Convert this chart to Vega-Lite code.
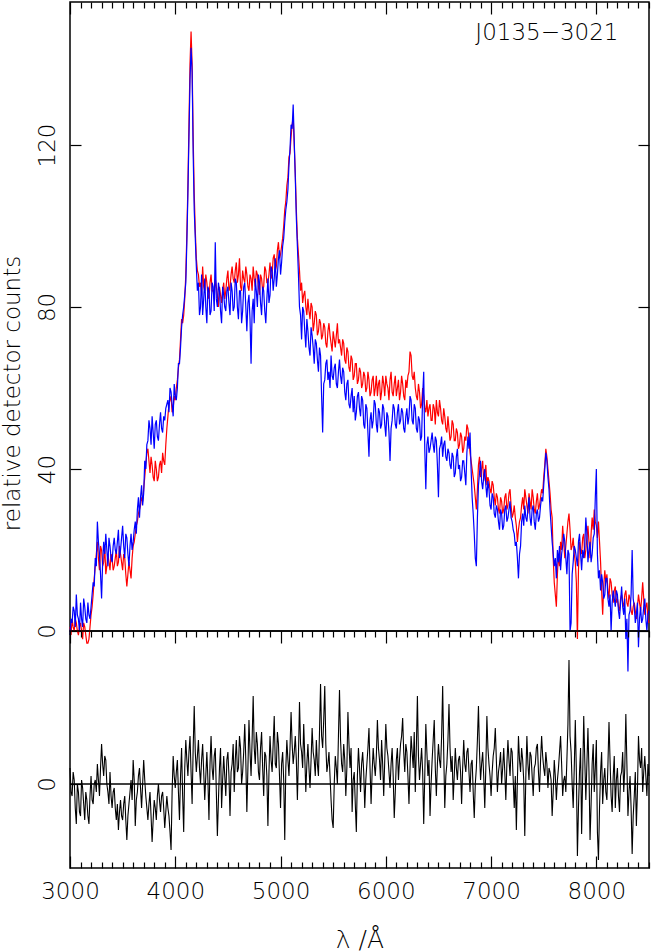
{
  "$schema": "https://vega.github.io/schema/vega-lite/v6.json",
  "padding": 0,
  "autosize": {"type": "pad"},
  "spacing": 0,
  "bounds": "flush",
  "config": {
    "font": "DejaVu Sans",
    "view": {"stroke": "black", "strokeWidth": 1.5},
    "axis": {"labelFont": "DejaVu Sans", "labelFontWeight": 200, "labelFontSize": 23, "labelColor": "black", "titleFont": "DejaVu Sans", "titleFontWeight": 200, "titleFontSize": 23, "titleColor": "black", "tickColor": "black", "tickWidth": 1.2, "domain": false, "grid": false, "labelFlush": false, "labelOverlap": false}
  },
  "datasets": {
    "spec": [
      {"w":3000,"r":1,"b":-1,"d":0.4},{"w":3010,"r":-1,"b":3,"d":-0.2},{"w":3020,"r":3,"b":2,"d":-0.3},{"w":3030,"r":1,"b":6,"d":0.3},{"w":3040,"r":0,"b":5,"d":0.1},{"w":3050,"r":3,"b":1,"d":-0.6},{"w":3060,"r":2,"b":9,"d":-1.0},{"w":3070,"r":0,"b":4,"d":0.0},{"w":3080,"r":-1,"b":3,"d":-0.2},{"w":3090,"r":1,"b":0,"d":-0.7},
      {"w":3100,"r":2,"b":7,"d":-0.8},{"w":3110,"r":0,"b":3,"d":0.1},{"w":3120,"r":-2,"b":1,"d":-0.1},{"w":3130,"r":2,"b":8,"d":-0.5},{"w":3140,"r":1,"b":6,"d":-0.9},{"w":3150,"r":-1,"b":3,"d":-0.2},{"w":3160,"r":-3,"b":2,"d":-0.4},{"w":3170,"r":-3,"b":7,"d":-0.8},{"w":3180,"r":-2,"b":4,"d":-1.0},{"w":3190,"r":1,"b":3,"d":-0.3},
      {"w":3200,"r":4,"b":6,"d":0.2},{"w":3210,"r":6,"b":9,"d":-0.4},{"w":3220,"r":9,"b":12,"d":-0.5},{"w":3230,"r":13,"b":11,"d":0.0},{"w":3240,"r":16,"b":18,"d":0.1},{"w":3250,"r":19,"b":16,"d":-0.2},{"w":3260,"r":22,"b":27,"d":0.5},{"w":3270,"r":18,"b":22,"d":0.1},{"w":3280,"r":15,"b":19,"d":-0.3},{"w":3290,"r":21,"b":14,"d":0.4},
      {"w":3300,"r":20,"b":8,"d":1.0},{"w":3310,"r":16,"b":17,"d":0.5},{"w":3320,"r":17,"b":22,"d":0.2},{"w":3330,"r":21,"b":19,"d":0.7},{"w":3340,"r":14,"b":24,"d":0.6},{"w":3350,"r":16,"b":20,"d":0.0},{"w":3360,"r":19,"b":16,"d":-0.2},{"w":3370,"r":17,"b":23,"d":-0.5},{"w":3380,"r":15,"b":21,"d":0.3},{"w":3390,"r":19,"b":18,"d":-0.3},
      {"w":3400,"r":18,"b":17,"d":-0.6},{"w":3410,"r":15,"b":21,"d":-0.2},{"w":3420,"r":16,"b":23,"d":-0.1},{"w":3430,"r":18,"b":20,"d":-0.6},{"w":3440,"r":20,"b":19,"d":-0.9},{"w":3450,"r":16,"b":22,"d":-0.5},{"w":3460,"r":17,"b":25,"d":-1.15},{"w":3470,"r":21,"b":18,"d":-0.7},{"w":3480,"r":19,"b":20,"d":-0.4},{"w":3490,"r":17,"b":23,"d":-0.8},
      {"w":3500,"r":15,"b":26,"d":-0.9},{"w":3510,"r":19,"b":21,"d":-0.5},{"w":3520,"r":18,"b":18,"d":-0.3},{"w":3530,"r":14,"b":24,"d":-0.9},{"w":3540,"r":11,"b":23,"d":-1.4},{"w":3550,"r":14,"b":19,"d":-0.8},{"w":3560,"r":17,"b":16,"d":-0.5},{"w":3570,"r":15,"b":21,"d":-0.2},{"w":3580,"r":13,"b":24,"d":0.1},{"w":3590,"r":18,"b":20,"d":-0.4},
      {"w":3600,"r":21,"b":22,"d":0.6},{"w":3610,"r":22,"b":25,"d":0.1},{"w":3620,"r":24,"b":27,"d":-1.05},{"w":3630,"r":26,"b":24,"d":-0.4},{"w":3640,"r":27,"b":30,"d":-0.2},{"w":3650,"r":29,"b":33,"d":0.2},{"w":3660,"r":30,"b":28,"d":0.4},{"w":3670,"r":31,"b":33,"d":-0.1},{"w":3680,"r":33,"b":36,"d":-0.6},{"w":3690,"r":32,"b":31,"d":0.0},
      {"w":3700,"r":35,"b":34,"d":0.6},{"w":3710,"r":38,"b":42,"d":0.1},{"w":3720,"r":41,"b":40,"d":-0.3},{"w":3730,"r":44,"b":46,"d":-0.6},{"w":3740,"r":45,"b":47,"d":-0.9},{"w":3750,"r":42,"b":52,"d":-0.5},{"w":3760,"r":39,"b":50,"d":-0.2},{"w":3770,"r":43,"b":46,"d":-0.8},{"w":3780,"r":41,"b":53,"d":-1.45},{"w":3790,"r":38,"b":49,"d":-0.9},
      {"w":3800,"r":37,"b":45,"d":-0.4},{"w":3810,"r":42,"b":51,"d":-0.6},{"w":3820,"r":40,"b":52,"d":-0.9},{"w":3830,"r":37,"b":48,"d":-0.3},{"w":3840,"r":38,"b":47,"d":0.0},{"w":3850,"r":41,"b":51,"d":-0.4},{"w":3860,"r":42,"b":54,"d":-0.7},{"w":3870,"r":39,"b":50,"d":-0.3},{"w":3880,"r":44,"b":49,"d":-0.2},{"w":3890,"r":42,"b":53,"d":-0.6},
      {"w":3900,"r":41,"b":52,"d":-1.1},{"w":3910,"r":46,"b":55,"d":-0.7},{"w":3920,"r":50,"b":56,"d":-0.3},{"w":3930,"r":53,"b":57,"d":-0.6},{"w":3940,"r":56,"b":54,"d":-0.8},{"w":3950,"r":57,"b":60,"d":-1.2},{"w":3960,"r":58,"b":59,"d":-1.65},{"w":3970,"r":54,"b":56,"d":-0.2},{"w":3980,"r":55,"b":53,"d":0.7},{"w":3990,"r":58,"b":61,"d":0.2},
      {"w":4000,"r":57,"b":58,"d":-0.1},{"w":4010,"r":60,"b":57,"d":0.3},{"w":4020,"r":62,"b":60,"d":0.6},{"w":4030,"r":65,"b":66,"d":-0.2},{"w":4040,"r":67,"b":66,"d":-0.9},{"w":4050,"r":72,"b":70,"d":0.2},{"w":4060,"r":77,"b":75,"d":0.9},{"w":4070,"r":76,"b":78,"d":-0.3},{"w":4080,"r":78,"b":80,"d":-1.2},{"w":4090,"r":82,"b":83,"d":0.4},
      {"w":4100,"r":88,"b":86,"d":1.1},{"w":4110,"r":98,"b":96,"d":0.6},{"w":4120,"r":110,"b":108,"d":0.2},{"w":4130,"r":125,"b":122,"d":0.8},{"w":4140,"r":140,"b":136,"d":1.2},{"w":4150,"r":148,"b":144,"d":0.3},{"w":4160,"r":140,"b":138,"d":-0.5},{"w":4170,"r":122,"b":118,"d":0.9},{"w":4180,"r":108,"b":104,"d":1.95},{"w":4190,"r":99,"b":97,"d":0.8},
      {"w":4200,"r":92,"b":90,"d":0.3},{"w":4210,"r":89,"b":84,"d":0.7},{"w":4220,"r":88,"b":86,"d":1.1},{"w":4230,"r":85,"b":78,"d":0.4},{"w":4240,"r":86,"b":80,"d":0.0},{"w":4250,"r":83,"b":88,"d":0.6},{"w":4260,"r":90,"b":78,"d":1.0},{"w":4270,"r":85,"b":82,"d":0.3},{"w":4280,"r":84,"b":87,"d":-0.4},{"w":4290,"r":88,"b":80,"d":0.2},
      {"w":4300,"r":86,"b":76,"d":0.8},{"w":4310,"r":83,"b":85,"d":0.1},{"w":4320,"r":82,"b":84,"d":-0.9},{"w":4330,"r":86,"b":78,"d":0.5},{"w":4340,"r":88,"b":79,"d":1.2},{"w":4350,"r":84,"b":86,"d":0.4},{"w":4360,"r":84,"b":85,"d":0.1},{"w":4370,"r":82,"b":79,"d":0.7},{"w":4380,"r":87,"b":96,"d":0.9},{"w":4390,"r":85,"b":82,"d":-0.2},
      {"w":4400,"r":83,"b":80,"d":-1.3},{"w":4410,"r":80,"b":86,"d":-0.4},{"w":4420,"r":85,"b":84,"d":0.4},{"w":4430,"r":83,"b":79,"d":0.9},{"w":4440,"r":81,"b":76,"d":-0.6},{"w":4450,"r":84,"b":85,"d":0.1},{"w":4460,"r":86,"b":83,"d":0.7},{"w":4470,"r":82,"b":80,"d":0.2},{"w":4480,"r":84,"b":79,"d":-0.3},{"w":4490,"r":87,"b":84,"d":0.6},
      {"w":4500,"r":89,"b":85,"d":0.8},{"w":4510,"r":84,"b":81,"d":0.2},{"w":4520,"r":85,"b":78,"d":-0.8},{"w":4530,"r":88,"b":86,"d":0.3},{"w":4540,"r":90,"b":84,"d":0.5},{"w":4550,"r":87,"b":79,"d":1.0},{"w":4560,"r":86,"b":80,"d":-0.2},{"w":4570,"r":89,"b":87,"d":0.6},{"w":4580,"r":91,"b":86,"d":1.1},{"w":4590,"r":86,"b":80,"d":0.3},
      {"w":4600,"r":88,"b":77,"d":0.4},{"w":4610,"r":92,"b":84,"d":1.2},{"w":4620,"r":85,"b":84,"d":0.9},{"w":4630,"r":84,"b":76,"d":0.0},{"w":4640,"r":89,"b":79,"d":0.3},{"w":4650,"r":87,"b":85,"d":0.8},{"w":4660,"r":86,"b":86,"d":1.5},{"w":4670,"r":90,"b":80,"d":0.6},{"w":4680,"r":88,"b":74,"d":-0.7},{"w":4690,"r":85,"b":81,"d":0.4},
      {"w":4700,"r":84,"b":83,"d":1.6},{"w":4710,"r":88,"b":77,"d":0.8},{"w":4720,"r":87,"b":66,"d":0.2},{"w":4730,"r":84,"b":79,"d":1.1},{"w":4740,"r":90,"b":82,"d":2.2},{"w":4750,"r":87,"b":76,"d":0.9},{"w":4760,"r":85,"b":87,"d":0.5},{"w":4770,"r":89,"b":84,"d":1.3},{"w":4780,"r":88,"b":80,"d":1.0},{"w":4790,"r":85,"b":88,"d":0.3},
      {"w":4800,"r":83,"b":86,"d":0.1},{"w":4810,"r":88,"b":81,"d":0.9},{"w":4820,"r":87,"b":78,"d":1.3},{"w":4830,"r":84,"b":85,"d":0.4},{"w":4840,"r":85,"b":84,"d":-0.3},{"w":4850,"r":90,"b":79,"d":0.8},{"w":4860,"r":89,"b":76,"d":0.7},{"w":4870,"r":86,"b":82,"d":0.2},{"w":4880,"r":86,"b":87,"d":-1.05},{"w":4890,"r":88,"b":81,"d":0.3},
      {"w":4900,"r":91,"b":83,"d":1.2},{"w":4910,"r":87,"b":90,"d":0.6},{"w":4920,"r":88,"b":89,"d":0.3},{"w":4930,"r":92,"b":84,"d":1.0},{"w":4940,"r":93,"b":87,"d":1.7},{"w":4950,"r":89,"b":92,"d":0.5},{"w":4960,"r":90,"b":85,"d":0.4},{"w":4970,"r":94,"b":88,"d":1.3},{"w":4980,"r":96,"b":92,"d":1.0},{"w":4990,"r":92,"b":94,"d":0.2},
      {"w":5000,"r":93,"b":88,"d":-0.6},{"w":5010,"r":95,"b":91,"d":0.5},{"w":5020,"r":97,"b":95,"d":0.8},{"w":5030,"r":100,"b":97,"d":0.1},{"w":5040,"r":104,"b":101,"d":-1.4},{"w":5050,"r":106,"b":104,"d":0.4},{"w":5060,"r":110,"b":106,"d":1.1},{"w":5070,"r":112,"b":109,"d":0.6},{"w":5080,"r":117,"b":115,"d":0.2},{"w":5090,"r":118,"b":119,"d":0.9},
      {"w":5100,"r":122,"b":125,"d":1.8},{"w":5110,"r":125,"b":124,"d":1.0},{"w":5120,"r":127,"b":130,"d":0.5},{"w":5130,"r":120,"b":121,"d":0.8},{"w":5140,"r":113,"b":112,"d":1.2},{"w":5150,"r":104,"b":102,"d":0.6},{"w":5160,"r":97,"b":95,"d":-0.4},{"w":5170,"r":93,"b":88,"d":0.7},{"w":5180,"r":89,"b":80,"d":2.05},{"w":5190,"r":84,"b":78,"d":1.0},
      {"w":5200,"r":86,"b":72,"d":0.8},{"w":5210,"r":81,"b":80,"d":0.4},{"w":5220,"r":83,"b":79,"d":1.5},{"w":5230,"r":84,"b":74,"d":0.7},{"w":5240,"r":80,"b":70,"d":-0.2},{"w":5250,"r":78,"b":77,"d":0.5},{"w":5260,"r":82,"b":74,"d":1.0},{"w":5270,"r":79,"b":70,"d":0.4},{"w":5280,"r":77,"b":68,"d":-0.1},{"w":5290,"r":81,"b":75,"d":0.6},
      {"w":5300,"r":80,"b":73,"d":1.4},{"w":5310,"r":74,"b":70,"d":0.8},{"w":5320,"r":76,"b":66,"d":0.6},{"w":5330,"r":79,"b":72,"d":0.2},{"w":5340,"r":78,"b":71,"d":1.1},{"w":5350,"r":73,"b":67,"d":0.5},{"w":5360,"r":74,"b":64,"d":0.2},{"w":5370,"r":77,"b":70,"d":1.3},{"w":5380,"r":76,"b":68,"d":2.5},{"w":5390,"r":72,"b":58,"d":1.2},
      {"w":5400,"r":73,"b":49,"d":0.9},{"w":5410,"r":76,"b":61,"d":1.6},{"w":5420,"r":75,"b":62,"d":2.45},{"w":5430,"r":71,"b":66,"d":1.0},{"w":5440,"r":70,"b":67,"d":0.3},{"w":5450,"r":74,"b":62,"d":0.5},{"w":5460,"r":76,"b":64,"d":0.8},{"w":5470,"r":73,"b":60,"d":0.2},{"w":5480,"r":71,"b":68,"d":-0.4},{"w":5490,"r":69,"b":63,"d":-0.9},
      {"w":5500,"r":74,"b":62,"d":-1.1},{"w":5510,"r":72,"b":65,"d":0.0},{"w":5520,"r":70,"b":66,"d":0.7},{"w":5530,"r":73,"b":61,"d":0.4},{"w":5540,"r":76,"b":60,"d":0.0},{"w":5550,"r":71,"b":64,"d":1.2},{"w":5560,"r":72,"b":67,"d":2.35},{"w":5570,"r":70,"b":63,"d":1.1},{"w":5580,"r":68,"b":61,"d":0.5},{"w":5590,"r":72,"b":65,"d":0.3},
      {"w":5600,"r":71,"b":64,"d":1.0},{"w":5610,"r":67,"b":59,"d":0.6},{"w":5620,"r":66,"b":57,"d":-0.3},{"w":5630,"r":70,"b":61,"d":0.4},{"w":5640,"r":69,"b":62,"d":1.8},{"w":5650,"r":65,"b":56,"d":1.0},{"w":5660,"r":64,"b":55,"d":0.4},{"w":5670,"r":68,"b":58,"d":0.9},{"w":5680,"r":67,"b":60,"d":-0.7},{"w":5690,"r":62,"b":54,"d":0.1},
      {"w":5700,"r":63,"b":58,"d":0.3},{"w":5710,"r":66,"b":52,"d":-0.5},{"w":5720,"r":66,"b":54,"d":-1.2},{"w":5730,"r":61,"b":58,"d":0.2},{"w":5740,"r":62,"b":59,"d":0.9},{"w":5750,"r":65,"b":55,"d":0.4},{"w":5760,"r":64,"b":53,"d":-0.2},{"w":5770,"r":60,"b":58,"d":0.5},{"w":5780,"r":61,"b":57,"d":0.8},{"w":5790,"r":64,"b":51,"d":0.3},
      {"w":5800,"r":63,"b":50,"d":-0.6},{"w":5810,"r":59,"b":56,"d":0.1},{"w":5820,"r":60,"b":55,"d":0.5},{"w":5830,"r":64,"b":49,"d":0.9},{"w":5840,"r":62,"b":43,"d":1.4},{"w":5850,"r":58,"b":52,"d":0.4},{"w":5860,"r":59,"b":54,"d":-0.5},{"w":5870,"r":62,"b":50,"d":0.3},{"w":5880,"r":63,"b":52,"d":0.9},{"w":5890,"r":58,"b":57,"d":0.5},
      {"w":5900,"r":60,"b":56,"d":0.2},{"w":5910,"r":63,"b":51,"d":0.7},{"w":5920,"r":58,"b":49,"d":1.6},{"w":5930,"r":61,"b":55,"d":0.9},{"w":5940,"r":62,"b":54,"d":0.6},{"w":5950,"r":57,"b":50,"d":0.1},{"w":5960,"r":59,"b":51,"d":1.1},{"w":5970,"r":63,"b":56,"d":0.5},{"w":5980,"r":61,"b":55,"d":-0.3},{"w":5990,"r":58,"b":51,"d":0.6},
      {"w":6000,"r":63,"b":48,"d":1.5},{"w":6010,"r":61,"b":54,"d":0.9},{"w":6020,"r":60,"b":53,"d":0.7},{"w":6030,"r":57,"b":49,"d":0.3},{"w":6040,"r":62,"b":42,"d":-0.1},{"w":6050,"r":64,"b":50,"d":0.5},{"w":6060,"r":59,"b":52,"d":0.9},{"w":6070,"r":58,"b":56,"d":0.2},{"w":6080,"r":61,"b":55,"d":-0.85},{"w":6090,"r":63,"b":51,"d":-0.2},
      {"w":6100,"r":58,"b":50,"d":0.6},{"w":6110,"r":60,"b":54,"d":0.9},{"w":6120,"r":62,"b":56,"d":0.1},{"w":6130,"r":57,"b":51,"d":0.6},{"w":6140,"r":59,"b":52,"d":1.0},{"w":6150,"r":63,"b":55,"d":1.2},{"w":6160,"r":61,"b":54,"d":1.65},{"w":6170,"r":58,"b":50,"d":0.8},{"w":6180,"r":57,"b":49,"d":0.3},{"w":6190,"r":62,"b":53,"d":1.0},
      {"w":6200,"r":60,"b":55,"d":0.8},{"w":6210,"r":63,"b":51,"d":0.2},{"w":6220,"r":64,"b":53,"d":-0.5},{"w":6230,"r":69,"b":58,"d":0.4},{"w":6240,"r":68,"b":57,"d":1.2},{"w":6250,"r":63,"b":52,"d":0.8},{"w":6260,"r":62,"b":51,"d":0.4},{"w":6270,"r":64,"b":56,"d":1.3},{"w":6280,"r":60,"b":55,"d":-0.2},{"w":6290,"r":58,"b":50,"d":0.9},
      {"w":6300,"r":57,"b":49,"d":2.2},{"w":6310,"r":61,"b":53,"d":0.7},{"w":6320,"r":59,"b":52,"d":0.1},{"w":6330,"r":55,"b":47,"d":0.5},{"w":6340,"r":56,"b":48,"d":0.9},{"w":6350,"r":60,"b":58,"d":0.3},{"w":6360,"r":58,"b":64,"d":-1.0},{"w":6370,"r":55,"b":45,"d":0.2},{"w":6380,"r":54,"b":35,"d":1.5},{"w":6390,"r":57,"b":46,"d":0.8},
      {"w":6400,"r":53,"b":48,"d":0.2},{"w":6410,"r":55,"b":44,"d":0.6},{"w":6420,"r":56,"b":45,"d":-0.8},{"w":6430,"r":52,"b":47,"d":0.0},{"w":6440,"r":52,"b":49,"d":0.6},{"w":6450,"r":56,"b":46,"d":1.1},{"w":6460,"r":55,"b":44,"d":1.6},{"w":6470,"r":51,"b":48,"d":0.4},{"w":6480,"r":57,"b":47,"d":-0.3},{"w":6490,"r":54,"b":41,"d":0.5},
      {"w":6500,"r":53,"b":33,"d":1.0},{"w":6510,"r":57,"b":45,"d":0.6},{"w":6520,"r":55,"b":46,"d":0.4},{"w":6530,"r":52,"b":48,"d":1.2},{"w":6540,"r":51,"b":43,"d":2.45},{"w":6550,"r":55,"b":46,"d":0.8},{"w":6560,"r":53,"b":47,"d":-0.6},{"w":6570,"r":50,"b":43,"d":0.2},{"w":6580,"r":49,"b":42,"d":0.5},{"w":6590,"r":53,"b":45,"d":1.1},
      {"w":6600,"r":50,"b":44,"d":2.0},{"w":6610,"r":47,"b":41,"d":0.9},{"w":6620,"r":48,"b":40,"d":0.3},{"w":6630,"r":52,"b":44,"d":0.7},{"w":6640,"r":51,"b":43,"d":-0.4},{"w":6650,"r":47,"b":38,"d":0.2},{"w":6660,"r":47,"b":39,"d":0.9},{"w":6670,"r":50,"b":43,"d":0.4},{"w":6680,"r":49,"b":45,"d":0.1},{"w":6690,"r":45,"b":40,"d":0.6},
      {"w":6700,"r":46,"b":41,"d":0.7},{"w":6710,"r":49,"b":37,"d":0.3},{"w":6720,"r":48,"b":38,"d":-0.5},{"w":6730,"r":44,"b":42,"d":0.4},{"w":6740,"r":45,"b":42,"d":1.1},{"w":6750,"r":48,"b":39,"d":0.5},{"w":6760,"r":47,"b":36,"d":0.3},{"w":6770,"r":51,"b":44,"d":0.8},{"w":6780,"r":50,"b":48,"d":0.9},{"w":6790,"r":47,"b":45,"d":0.3},
      {"w":6800,"r":44,"b":49,"d":-0.2},{"w":6810,"r":42,"b":40,"d":0.5},{"w":6820,"r":40,"b":33,"d":0.6},{"w":6830,"r":38,"b":29,"d":-0.2},{"w":6840,"r":36,"b":24,"d":-0.85},{"w":6850,"r":33,"b":18,"d":0.0},{"w":6860,"r":30,"b":16,"d":0.4},{"w":6870,"r":35,"b":28,"d":1.1},{"w":6880,"r":41,"b":36,"d":1.95},{"w":6890,"r":43,"b":39,"d":0.8},
      {"w":6900,"r":38,"b":42,"d":0.1},{"w":6910,"r":40,"b":37,"d":0.5},{"w":6920,"r":42,"b":35,"d":0.8},{"w":6930,"r":37,"b":38,"d":0.2},{"w":6940,"r":39,"b":40,"d":-0.6},{"w":6950,"r":41,"b":36,"d":0.4},{"w":6960,"r":36,"b":33,"d":1.7},{"w":6970,"r":38,"b":37,"d":0.9},{"w":6980,"r":37,"b":35,"d":0.5},{"w":6990,"r":35,"b":31,"d":0.2},
      {"w":7000,"r":34,"b":30,"d":-0.3},{"w":7010,"r":37,"b":34,"d":0.3},{"w":7020,"r":36,"b":33,"d":0.7},{"w":7030,"r":33,"b":29,"d":0.9},{"w":7040,"r":31,"b":28,"d":1.4},{"w":7050,"r":34,"b":31,"d":0.6},{"w":7060,"r":33,"b":30,"d":-0.2},{"w":7070,"r":30,"b":27,"d":0.3},{"w":7080,"r":29,"b":25,"d":0.5},{"w":7090,"r":33,"b":30,"d":0.8},
      {"w":7100,"r":32,"b":29,"d":0.0},{"w":7110,"r":29,"b":25,"d":0.4},{"w":7120,"r":30,"b":26,"d":0.9},{"w":7130,"r":33,"b":30,"d":0.3},{"w":7140,"r":34,"b":31,"d":-0.4},{"w":7150,"r":30,"b":27,"d":0.5},{"w":7160,"r":31,"b":28,"d":1.1},{"w":7170,"r":34,"b":30,"d":0.6},{"w":7180,"r":35,"b":32,"d":0.2},{"w":7190,"r":31,"b":28,"d":0.9},
      {"w":7200,"r":28,"b":27,"d":0.8},{"w":7210,"r":29,"b":25,"d":0.1},{"w":7220,"r":31,"b":24,"d":-0.6},{"w":7230,"r":28,"b":21,"d":0.2},{"w":7240,"r":26,"b":22,"d":-1.15},{"w":7250,"r":22,"b":18,"d":0.1},{"w":7260,"r":25,"b":13,"d":1.2},{"w":7270,"r":27,"b":19,"d":0.6},{"w":7280,"r":28,"b":21,"d":0.3},{"w":7290,"r":31,"b":27,"d":0.9},
      {"w":7300,"r":33,"b":29,"d":0.6},{"w":7310,"r":30,"b":26,"d":0.1},{"w":7320,"r":35,"b":31,"d":-1.3},{"w":7330,"r":33,"b":28,"d":0.2},{"w":7340,"r":31,"b":27,"d":1.2},{"w":7350,"r":29,"b":30,"d":0.5},{"w":7360,"r":34,"b":33,"d":0.1},{"w":7370,"r":32,"b":28,"d":0.8},{"w":7380,"r":30,"b":26,"d":0.7},{"w":7390,"r":35,"b":30,"d":0.2},
      {"w":7400,"r":33,"b":31,"d":-0.3},{"w":7410,"r":30,"b":27,"d":0.4},{"w":7420,"r":29,"b":25,"d":0.5},{"w":7430,"r":32,"b":29,"d":0.9},{"w":7440,"r":34,"b":30,"d":1.0},{"w":7450,"r":30,"b":27,"d":0.3},{"w":7460,"r":31,"b":28,"d":-0.2},{"w":7470,"r":33,"b":31,"d":0.6},{"w":7480,"r":35,"b":33,"d":1.2},{"w":7490,"r":34,"b":32,"d":0.7},
      {"w":7500,"r":38,"b":36,"d":0.4},{"w":7510,"r":41,"b":40,"d":0.2},{"w":7520,"r":45,"b":44,"d":0.8},{"w":7530,"r":43,"b":42,"d":0.5},{"w":7540,"r":40,"b":38,"d":-0.1},{"w":7550,"r":37,"b":35,"d":0.4},{"w":7560,"r":34,"b":30,"d":0.3},{"w":7570,"r":30,"b":26,"d":0.1},{"w":7580,"r":28,"b":22,"d":-0.8},{"w":7590,"r":18,"b":19,"d":-0.2},
      {"w":7600,"r":12,"b":16,"d":0.6},{"w":7610,"r":9,"b":18,"d":0.2},{"w":7620,"r":6,"b":13,"d":-0.4},{"w":7630,"r":14,"b":20,"d":0.1},{"w":7640,"r":19,"b":17,"d":0.4},{"w":7650,"r":16,"b":21,"d":0.8},{"w":7660,"r":22,"b":15,"d":1.2},{"w":7670,"r":20,"b":19,"d":0.5},{"w":7680,"r":26,"b":21,"d":-0.3},{"w":7690,"r":22,"b":24,"d":0.1},
      {"w":7700,"r":18,"b":22,"d":0.2},{"w":7710,"r":21,"b":18,"d":-0.2},{"w":7720,"r":24,"b":14,"d":0.6},{"w":7730,"r":27,"b":20,"d":1.5},{"w":7740,"r":29,"b":19,"d":3.1},{"w":7750,"r":25,"b":0,"d":1.2},{"w":7760,"r":20,"b":2,"d":0.8},{"w":7770,"r":21,"b":14,"d":0.0},{"w":7780,"r":23,"b":17,"d":-0.6},{"w":7790,"r":19,"b":21,"d":0.4},
      {"w":7800,"r":17,"b":20,"d":1.6},{"w":7810,"r":12,"b":18,"d":0.3},{"w":7820,"r":-2,"b":16,"d":-1.8},{"w":7830,"r":15,"b":22,"d":-0.6},{"w":7840,"r":22,"b":24,"d":0.3},{"w":7850,"r":20,"b":19,"d":0.9},{"w":7860,"r":19,"b":15,"d":-1.25},{"w":7870,"r":23,"b":20,"d":0.2},{"w":7880,"r":24,"b":18,"d":1.7},{"w":7890,"r":18,"b":21,"d":0.6},
      {"w":7900,"r":20,"b":28,"d":-0.4},{"w":7910,"r":23,"b":24,"d":0.5},{"w":7920,"r":26,"b":17,"d":1.4},{"w":7930,"r":22,"b":20,"d":0.3},{"w":7940,"r":18,"b":22,"d":-1.4},{"w":7950,"r":24,"b":17,"d":-0.5},{"w":7960,"r":28,"b":19,"d":0.5},{"w":7970,"r":25,"b":23,"d":1.0},{"w":7980,"r":30,"b":24,"d":-0.2},{"w":7990,"r":27,"b":33,"d":0.4},
      {"w":8000,"r":26,"b":40,"d":1.1},{"w":8010,"r":23,"b":19,"d":-1.2},{"w":8020,"r":27,"b":13,"d":-1.9},{"w":8030,"r":22,"b":15,"d":-0.6},{"w":8040,"r":17,"b":10,"d":0.3},{"w":8050,"r":10,"b":14,"d":0.8},{"w":8060,"r":4,"b":12,"d":-0.5},{"w":8070,"r":11,"b":8,"d":0.1},{"w":8080,"r":15,"b":9,"d":0.4},{"w":8090,"r":12,"b":13,"d":-0.2},
      {"w":8100,"r":14,"b":13,"d":-0.4},{"w":8110,"r":10,"b":8,"d":0.5},{"w":8120,"r":8,"b":6,"d":1.55},{"w":8130,"r":13,"b":9,"d":0.6},{"w":8140,"r":12,"b":0,"d":-0.3},{"w":8150,"r":9,"b":7,"d":-0.7},{"w":8160,"r":7,"b":10,"d":0.2},{"w":8170,"r":10,"b":8,"d":0.7},{"w":8180,"r":11,"b":6,"d":-0.6},{"w":8190,"r":7,"b":10,"d":0.1},
      {"w":8200,"r":8,"b":9,"d":0.4},{"w":8210,"r":6,"b":5,"d":-0.3},{"w":8220,"r":5,"b":3,"d":-0.7},{"w":8230,"r":8,"b":7,"d":0.2},{"w":8240,"r":9,"b":11,"d":0.3},{"w":8250,"r":7,"b":6,"d":0.8},{"w":8260,"r":6,"b":4,"d":-0.2},{"w":8270,"r":9,"b":8,"d":0.4},{"w":8280,"r":10,"b":-2,"d":1.75},{"w":8290,"r":7,"b":3,"d":0.5},
      {"w":8300,"r":6,"b":-10,"d":-0.8},{"w":8310,"r":9,"b":4,"d":-0.2},{"w":8320,"r":8,"b":5,"d":0.2},{"w":8330,"r":5,"b":9,"d":-0.6},{"w":8340,"r":4,"b":20,"d":-1.75},{"w":8350,"r":6,"b":8,"d":-0.8},{"w":8360,"r":7,"b":6,"d":-0.3},{"w":8370,"r":5,"b":2,"d":0.3},{"w":8380,"r":3,"b":4,"d":-1.05},{"w":8390,"r":6,"b":7,"d":-0.2},
      {"w":8400,"r":9,"b":-4,"d":1.2},{"w":8410,"r":7,"b":3,"d":0.6},{"w":8420,"r":5,"b":6,"d":0.4},{"w":8430,"r":8,"b":2,"d":0.9},{"w":8440,"r":12,"b":3,"d":-0.2},{"w":8450,"r":8,"b":6,"d":0.3},{"w":8460,"r":4,"b":8,"d":0.7},{"w":8470,"r":6,"b":3,"d":0.2},{"w":8480,"r":7,"b":0,"d":-0.3},{"w":8490,"r":3,"b":4,"d":0.5},
      {"w":8500,"r":2,"b":5,"d":0.2}
    ]
  },
  "vconcat": [
    {
      "width": 579,
      "height": 629,
      "data": {"name": "spec"},
      "layer": [
        {
          "mark": {"type": "line", "color": "#ff0000", "strokeWidth": 1.2, "clip": false},
          "encoding": {
            "x": {"field": "w", "type": "quantitative", "scale": {"domain": [3000, 8500], "nice": false, "zero": false},
              "axis": {"orient": "top", "values": [3000,3100,3200,3300,3400,3500,3600,3700,3800,3900,4000,4100,4200,4300,4400,4500,4600,4700,4800,4900,5000,5100,5200,5300,5400,5500,5600,5700,5800,5900,6000,6100,6200,6300,6400,6500,6600,6700,6800,6900,7000,7100,7200,7300,7400,7500,7600,7700,7800,7900,8000,8100,8200,8300,8400,8500],
                "labels": false, "title": null, "tickSize": {"condition": {"test": "datum.value % 1000 === 0", "value": -12}, "value": -6}}},
            "y": {"field": "r", "type": "quantitative", "scale": {"domain": [0, 155.3], "nice": false, "zero": false},
              "axis": {"orient": "left", "values": [0, 40, 80, 120], "tickSize": -11, "labelAngle": 270, "labelAlign": "center", "labelBaseline": "alphabetic", "labelPadding": 27,
                "title": "relative detector counts", "titleAngle": 270, "titleAlign": "center", "titleBaseline": "alphabetic", "titleX": -51, "titleY": 391}}
          }
        },
        {
          "mark": {"type": "line", "color": "#0000ff", "strokeWidth": 1.2, "clip": false},
          "encoding": {
            "x": {"field": "w", "type": "quantitative", "axis": null},
            "y": {"field": "b", "type": "quantitative", "axis": {"orient": "right", "values": [0, 40, 80, 120], "labels": false, "tickSize": -11, "title": null}}
          }
        },
        {
          "data": {"values": [{}]},
          "mark": {"type": "text", "align": "right", "baseline": "alphabetic", "fontSize": 23, "font": "DejaVu Sans", "fontWeight": 200, "color": "black"},
          "encoding": {
            "x": {"datum": 8210, "type": "quantitative", "axis": null},
            "y": {"datum": 146, "type": "quantitative", "axis": null},
            "text": {"value": "J0135−3021"}
          }
        }
      ],
      "resolve": {"axis": {"x": "independent", "y": "independent"}}
    },
    {
      "width": 579,
      "height": 237,
      "data": {"name": "spec"},
      "layer": [
        {
          "mark": {"type": "line", "color": "black", "strokeWidth": 1.1, "clip": false},
          "encoding": {
            "x": {"field": "w", "type": "quantitative", "scale": {"domain": [3000, 8500], "nice": false, "zero": false},
              "axis": {"orient": "bottom", "values": [3000,3100,3200,3300,3400,3500,3600,3700,3800,3900,4000,4100,4200,4300,4400,4500,4600,4700,4800,4900,5000,5100,5200,5300,5400,5500,5600,5700,5800,5900,6000,6100,6200,6300,6400,6500,6600,6700,6800,6900,7000,7100,7200,7300,7400,7500,7600,7700,7800,7900,8000,8100,8200,8300,8400,8500],
                "format": "d", "labelExpr": "datum.value % 1000 === 0 ? datum.label : ''", "labelBaseline": "top", "labelPadding": 24,
                "tickSize": {"condition": {"test": "datum.value % 1000 === 0", "value": -12}, "value": -6},
                "title": "λ /Å", "titlePadding": 18, "titleFontSize": 25}},
            "y": {"field": "d", "type": "quantitative", "scale": {"domain": [-2.1, 3.825], "nice": false, "zero": false},
              "axis": {"orient": "left", "values": [0], "tickSize": -11, "labelAngle": 270, "labelAlign": "center", "labelBaseline": "alphabetic", "labelPadding": 27, "title": null}}
          }
        },
        {
          "data": {"values": [{}]},
          "mark": {"type": "rule", "color": "black", "strokeWidth": 1.3},
          "encoding": {
            "x": {"datum": 3000, "type": "quantitative",
              "axis": {"orient": "top", "values": [3000,3100,3200,3300,3400,3500,3600,3700,3800,3900,4000,4100,4200,4300,4400,4500,4600,4700,4800,4900,5000,5100,5200,5300,5400,5500,5600,5700,5800,5900,6000,6100,6200,6300,6400,6500,6600,6700,6800,6900,7000,7100,7200,7300,7400,7500,7600,7700,7800,7900,8000,8100,8200,8300,8400,8500],
                "labels": false, "title": null, "tickSize": {"condition": {"test": "datum.value % 1000 === 0", "value": -12}, "value": -6}}},
            "x2": {"datum": 8500},
            "y": {"datum": 0, "type": "quantitative", "axis": null}
          }
        }
      ],
      "resolve": {"axis": {"x": "independent", "y": "independent"}}
    }
  ]
}
